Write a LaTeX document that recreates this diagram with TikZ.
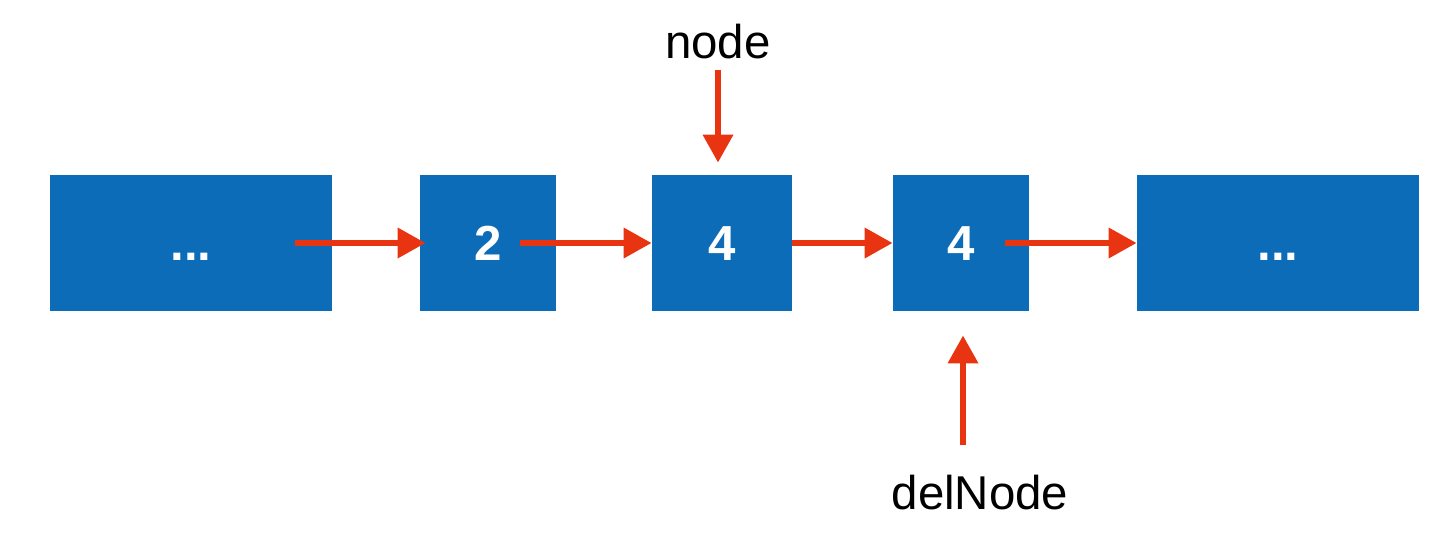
\documentclass[tikz,border=0pt]{standalone}
\usepackage{fontspec}
\setmainfont{Liberation Sans}
\usetikzlibrary{arrows.meta,calc}
\definecolor{cellblue}{RGB}{12,108,184}
\definecolor{ptrred}{RGB}{232,52,16}
\begin{document}
\begin{tikzpicture}[x=0.02cm,y=-0.02cm,
    cell/.style={fill=cellblue,text=white,inner sep=0pt,
      font=\bfseries\fontsize{28}{32}\selectfont,
      text height=20pt,text depth=0pt,minimum height=2.72cm},
    ptrtext/.style={inner sep=0pt,font=\fontsize{27}{32}\selectfont},
    link/.style={ptrred,line width=0.13cm,
      -{Triangle[length=0.56cm,width=0.58cm]}}]
  \useasboundingbox (0,0) rectangle (1452,538);
  \draw
    (191,243) node[cell,minimum width=5.64cm] (l){...}
    (488,243) node[cell,minimum width=2.72cm] (b2){2}
    (722,243) node[cell,minimum width=2.8cm] (b3){4}
    (961,243) node[cell,minimum width=2.72cm] (b4){4}
    (1278,243) node[cell,minimum width=5.64cm] (r){...}
    (718,42) node[ptrtext] (nd){node}
    (980,493) node[ptrtext] (dn){delNode};
  \begin{scope}[link]
    \draw ([xshift=-0.74cm]l.east) to ([xshift=0.12cm]b2.west);
    \draw ([xshift=-0.72cm]b2.east) to (b3.west);
    \draw (b3.east) to (b4.west);
    \draw ([xshift=-0.48cm]b4.east) to (r.west);
    \draw ($(nd.south)+(0,10)$) to ($(nd.south |- b3.north)+(0,-12)$);
    \draw ($(b4.south |- dn.north)+(2,-30)$) to ($(b4.south)+(2,24)$);
  \end{scope}
\end{tikzpicture}
\end{document}
